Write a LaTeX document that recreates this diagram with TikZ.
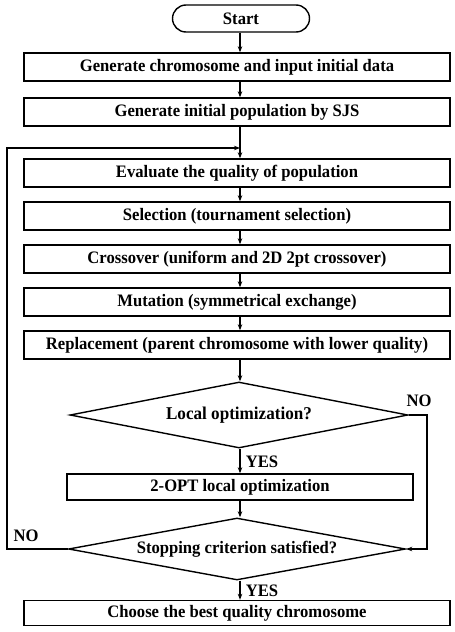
\documentclass[tikz,border=0pt]{standalone}
\usepackage{fontspec}
\setmainfont{Liberation Serif}[FakeStretch=0.95]
\usetikzlibrary{shapes.geometric,arrows.meta}
\begin{document}
\begin{tikzpicture}[x=1pt,y=-1pt,
  font=\fontsize{17.5}{19}\selectfont\bfseries,
  box/.style={draw,line width=1.4pt,minimum height=28pt,inner sep=0pt,anchor=center},
  wide/.style={box,minimum width=426pt},
  dia/.style={draw,line width=1.4pt,diamond,inner sep=0pt,aspect=5},
  arr/.style={-{Stealth[length=6pt,width=4.5pt]},line width=1.2pt},
  lbl/.style={inner sep=0pt}]
\useasboundingbox (0,0) rectangle (455,632);
\node[box,rounded corners=13.5pt,minimum width=137pt,minimum height=27pt] (start) at (241,18.5) {Start};
\node[wide] (b1) at (237,67) {Generate chromosome and input initial data};
\node[wide] (b2) at (237,112) {Generate initial population by SJS};
\node[wide] (b3) at (237,173) {Evaluate the quality of population};
\node[wide] (b4) at (237,216) {Selection (tournament selection)};
\node[wide] (b5) at (237,259) {Crossover (uniform and 2D 2pt crossover)};
\node[wide] (b6) at (237,302) {Mutation (symmetrical exchange)};
\node[wide] (b7) at (237,345) {Replacement (parent chromosome with lower quality)};
\node[dia,minimum width=338pt,minimum height=66pt,font=\fontsize{18}{20}\selectfont\bfseries] (d1) at (239,415) {Local optimization?};
\node[box,minimum width=346pt,minimum height=26pt] (opt) at (240,487) {2-OPT local optimization};
\node[dia,minimum width=337pt,minimum height=62pt] (d2) at (237,549) {Stopping criterion satisfied?};
\node[wide,minimum height=25pt] (b8) at (237,613) {Choose the best quality chromosome};
\coordinate (loopin) at (240,148);
\coordinate (ll) at (7,549);
\coordinate (lt) at (7,148);
\coordinate (rt) at (427,415);
\coordinate (rb) at (427,549);
\draw[arr] (start.south -| 240,0) -- (b1.north -| 240,0);
\draw[arr] (b1.south -| 240,0) -- (b2.north -| 240,0);
\draw[arr] (b2.south -| 240,0) -- (b3.north -| 240,0);
\draw[arr] (b3.south -| 240,0) -- (b4.north -| 240,0);
\draw[arr] (b4.south -| 240,0) -- (b5.north -| 240,0);
\draw[arr] (b5.south -| 240,0) -- (b6.north -| 240,0);
\draw[arr] (b6.south -| 240,0) -- (b7.north -| 240,0);
\draw[arr] (b7.south -| 240,0) -- (d1.north -| 240,0);
\draw[arr] (d1.south -| 240,0) -- (opt.north -| 240,0);
\draw[arr] (opt.south -| 240,0) -- (d2.north -| 240,0);
\draw[arr] (d2.south -| 240,0) -- (b8.north -| 240,0);
\draw[arr] (d2.west) -- (ll) -- (lt) -- (loopin);
\draw[arr] (d1.east) -- (rt) -- (rb) -- (d2.east);
\node[lbl] (no1) at (419,401) {NO};
\node[lbl] (no2) at (26,536) {NO};
\node[lbl] (yes1) at (262,462) {YES};
\node[lbl] (yes2) at (262,591) {YES};
\end{tikzpicture}
\end{document}
